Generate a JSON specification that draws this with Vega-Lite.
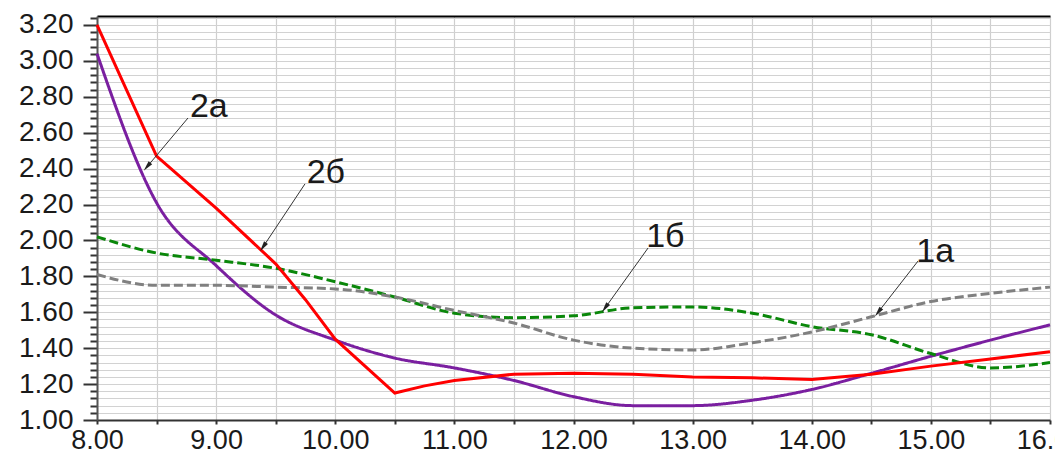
{
  "$schema": "https://vega.github.io/schema/vega-lite/v6.json",
  "width": 953,
  "height": 404,
  "autosize": "none",
  "padding": {"left": 97, "top": 16, "right": 5, "bottom": 34},
  "background": "white",
  "config": {"view": {"stroke": null}, "font": "Liberation Sans"},
  "datasets": {
    "curves": [
      {"s": "2б", "x": 8, "y": 3.2}, {"s": "2б", "x": 8.5, "y": 2.47}, {"s": "2б", "x": 9, "y": 2.18}, {"s": "2б", "x": 9.5, "y": 1.87}, {"s": "2б", "x": 9.75, "y": 1.67}, {"s": "2б", "x": 10, "y": 1.45}, {"s": "2б", "x": 10.5, "y": 1.15}, {"s": "2б", "x": 10.75, "y": 1.19}, {"s": "2б", "x": 11, "y": 1.22}, {"s": "2б", "x": 11.5, "y": 1.255}, {"s": "2б", "x": 12, "y": 1.26}, {"s": "2б", "x": 12.5, "y": 1.255}, {"s": "2б", "x": 13, "y": 1.24}, {"s": "2б", "x": 13.5, "y": 1.235}, {"s": "2б", "x": 14, "y": 1.225}, {"s": "2б", "x": 14.5, "y": 1.255}, {"s": "2б", "x": 15, "y": 1.3}, {"s": "2б", "x": 15.5, "y": 1.34}, {"s": "2б", "x": 16, "y": 1.38},
      {"s": "2a", "x": 8, "y": 3.04}, {"s": "2a", "x": 8.5, "y": 2.21}, {"s": "2a", "x": 9, "y": 1.86}, {"s": "2a", "x": 9.5, "y": 1.585}, {"s": "2a", "x": 10, "y": 1.445}, {"s": "2a", "x": 10.5, "y": 1.345}, {"s": "2a", "x": 11, "y": 1.29}, {"s": "2a", "x": 11.5, "y": 1.22}, {"s": "2a", "x": 12, "y": 1.13}, {"s": "2a", "x": 12.5, "y": 1.08}, {"s": "2a", "x": 13, "y": 1.08}, {"s": "2a", "x": 13.5, "y": 1.11}, {"s": "2a", "x": 14, "y": 1.17}, {"s": "2a", "x": 14.5, "y": 1.26}, {"s": "2a", "x": 15, "y": 1.355}, {"s": "2a", "x": 15.5, "y": 1.445}, {"s": "2a", "x": 16, "y": 1.53},
      {"s": "1б", "x": 8, "y": 2.02}, {"s": "1б", "x": 8.5, "y": 1.93}, {"s": "1б", "x": 9, "y": 1.89}, {"s": "1б", "x": 9.5, "y": 1.845}, {"s": "1б", "x": 10, "y": 1.77}, {"s": "1б", "x": 10.5, "y": 1.685}, {"s": "1б", "x": 11, "y": 1.595}, {"s": "1б", "x": 11.5, "y": 1.57}, {"s": "1б", "x": 12, "y": 1.58}, {"s": "1б", "x": 12.5, "y": 1.625}, {"s": "1б", "x": 13, "y": 1.63}, {"s": "1б", "x": 13.5, "y": 1.595}, {"s": "1б", "x": 14, "y": 1.52}, {"s": "1б", "x": 14.5, "y": 1.475}, {"s": "1б", "x": 15, "y": 1.37}, {"s": "1б", "x": 15.5, "y": 1.29}, {"s": "1б", "x": 16, "y": 1.32},
      {"s": "1a", "x": 8, "y": 1.81}, {"s": "1a", "x": 8.5, "y": 1.75}, {"s": "1a", "x": 9, "y": 1.75}, {"s": "1a", "x": 9.5, "y": 1.74}, {"s": "1a", "x": 10, "y": 1.73}, {"s": "1a", "x": 10.5, "y": 1.685}, {"s": "1a", "x": 11, "y": 1.61}, {"s": "1a", "x": 11.5, "y": 1.54}, {"s": "1a", "x": 12, "y": 1.445}, {"s": "1a", "x": 12.5, "y": 1.4}, {"s": "1a", "x": 13, "y": 1.39}, {"s": "1a", "x": 13.5, "y": 1.43}, {"s": "1a", "x": 14, "y": 1.49}, {"s": "1a", "x": 14.5, "y": 1.575}, {"s": "1a", "x": 15, "y": 1.66}, {"s": "1a", "x": 15.5, "y": 1.705}, {"s": "1a", "x": 16, "y": 1.74}
    ],
    "notes": [
      {"label": "2a", "tx": 8.78, "ty": 2.69, "x1": 8.764, "y1": 2.682, "x2": 8.42, "y2": 2.41, "ang": 220},
      {"label": "2б", "tx": 9.76, "ty": 2.32, "x1": 9.746, "y1": 2.315, "x2": 9.394, "y2": 1.964, "ang": 214},
      {"label": "1б", "tx": 12.61, "ty": 1.964, "x1": 12.626, "y1": 1.958, "x2": 12.265, "y2": 1.624, "ang": 216},
      {"label": "1a", "tx": 14.877, "ty": 1.88, "x1": 14.893, "y1": 1.886, "x2": 14.557, "y2": 1.6, "ang": 218}
    ]
  },
  "resolve": {"axis": {"x": "independent", "y": "independent"}},
  "layer": [
    {
      "data": {"name": "curves"},
      "transform": [{"filter": "datum.s !== '2б'"}],
      "mark": {"type": "line", "interpolate": "monotone", "strokeWidth": 3},
      "encoding": {
        "x": {"field": "x", "type": "quantitative", "scale": {"domain": [8, 16], "nice": false, "zero": false},
          "axis": {"orient": "bottom", "title": null, "values": [8, 8.5, 9, 9.5, 10, 10.5, 11, 11.5, 12, 12.5, 13, 13.5, 14, 14.5, 15, 15.5, 16],
            "labelExpr": "datum.value % 1 === 0 ? format(datum.value, '.2f') : ''",
            "labelOverlap": false, "labelBound": false, "labelFlush": false,
            "labelFontSize": 27, "labelColor": "#1a1a1a", "labelPadding": 3,
            "tickSize": 4, "tickColor": "#333", "tickWidth": 2,
            "grid": true, "gridColor": "#cfcfcf", "gridWidth": 1.2,
            "domainColor": "#333", "domainWidth": 2}},
        "y": {"field": "y", "type": "quantitative", "scale": {"domain": [1, 3.25], "nice": false, "zero": false},
          "axis": {"orient": "left", "title": null,
            "values": [1.0, 1.04, 1.08, 1.12, 1.16, 1.2, 1.24, 1.28, 1.32, 1.36, 1.4, 1.44, 1.48, 1.52, 1.56, 1.6, 1.64, 1.68, 1.72, 1.76, 1.8, 1.84, 1.88, 1.92, 1.96, 2.0, 2.04, 2.08, 2.12, 2.16, 2.2, 2.24, 2.28, 2.32, 2.36, 2.4, 2.44, 2.48, 2.52, 2.56, 2.6, 2.64, 2.68, 2.72, 2.76, 2.8, 2.84, 2.88, 2.92, 2.96, 3.0, 3.04, 3.08, 3.12, 3.16, 3.2, 3.24],
            "labelExpr": "abs(datum.value * 5 - round(datum.value * 5)) < 0.001 ? format(datum.value, '.2f') : ''",
            "labelOverlap": false, "labelBound": false, "labelFlush": false,
            "labelFontSize": 28, "labelColor": "#1a1a1a", "labelPadding": 10,
            "tickSize": {"condition": {"test": "abs(datum.value * 5 - round(datum.value * 5)) < 0.001", "value": 14}, "value": 7},
            "tickColor": "#333", "tickWidth": 2,
            "grid": true, "gridColor": "#d2d2d2", "gridWidth": 1,
            "domainColor": "#555", "domainWidth": 2}},
        "color": {"field": "s", "type": "nominal", "legend": null,
          "scale": {"domain": ["1a", "1б", "2a", "2б"], "range": ["#808080", "#0a870a", "#7a1fa0", "#ff0000"]}},
        "strokeDash": {"field": "s", "type": "nominal", "legend": null,
          "scale": {"domain": ["1a", "1б", "2a", "2б"], "range": [[9, 4], [9, 4], [1, 0], [1, 0]]}}
      }
    },
    {
      "data": {"name": "curves"},
      "transform": [{"filter": "datum.s === '2б'"}],
      "mark": {"type": "line", "interpolate": "linear", "strokeWidth": 3, "color": "#ff0000"},
      "encoding": {
        "x": {"field": "x", "type": "quantitative", "axis": null},
        "y": {"field": "y", "type": "quantitative", "axis": null}
      }
    },
    {
      "data": {"name": "notes"},
      "mark": {"type": "rule", "color": "#333", "strokeWidth": 1},
      "encoding": {
        "x": {"field": "x1", "type": "quantitative", "axis": null},
        "y": {"field": "y1", "type": "quantitative", "axis": null},
        "x2": {"field": "x2"},
        "y2": {"field": "y2"}
      }
    },
    {
      "data": {"name": "notes"},
      "mark": {"type": "point", "shape": "M0,-1L0.45,1L-0.45,1Z", "filled": true, "color": "#222", "size": 110, "opacity": 1},
      "encoding": {
        "x": {"field": "x2", "type": "quantitative", "axis": null},
        "y": {"field": "y2", "type": "quantitative", "axis": null},
        "angle": {"field": "ang", "type": "quantitative", "scale": null}
      }
    },
    {
      "data": {"name": "notes"},
      "mark": {"type": "text", "align": "left", "baseline": "alphabetic", "fontSize": 34, "color": "#1a1a1a"},
      "encoding": {
        "x": {"field": "tx", "type": "quantitative",
          "axis": {"orient": "top", "title": null, "labels": false, "ticks": false, "grid": false, "domainColor": "#000", "domainWidth": 2}},
        "y": {"field": "ty", "type": "quantitative", "axis": null},
        "text": {"field": "label"}
      }
    }
  ]
}
